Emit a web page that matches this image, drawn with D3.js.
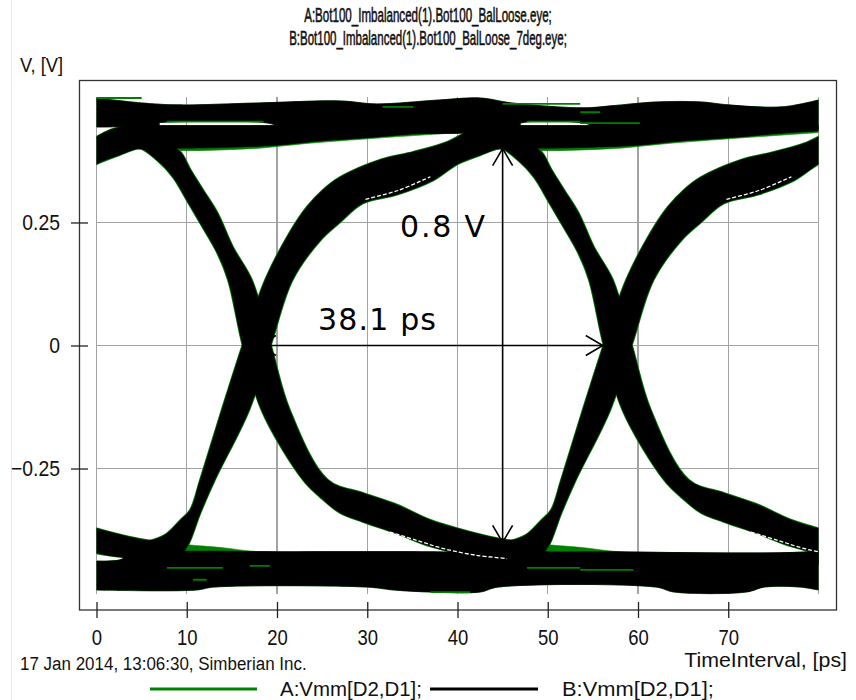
<!DOCTYPE html>
<html>
<head>
<meta charset="utf-8">
<script src="https://cdn.jsdelivr.net/npm/d3@7"></script>
<style>
  html, body { margin: 0; padding: 0; background: #fff; }
  svg { display: block; }
</style>
</head>
<body>
<svg id="chart" width="856" height="700"></svg>
<script>
// ---------------- data: time in ps, voltage in V ----------------
const xTicks = [0, 10, 20, 30, 40, 50, 60, 70];
const xGrid = [0, 10, 20, 30, 40, 50, 60, 70, 80];
const yTicks = [0.25, 0, -0.25];

// the eye folds every bit period, so edge envelopes repeat at these offsets
const edgeShifts = [-40, 0, 40];
const settleShifts = [-40, 0];

// rising-edge envelope: upper-left and lower-right boundaries [t, v]
const riseUpper = [[3.0,-0.401],[4.3,-0.401],[5.9,-0.397],[7.6,-0.385],[9.3,-0.355],[10.4,-0.334],
  [11.5,-0.273],[13.9,-0.131],[16.2,0.001],[18.7,0.133],[21.4,0.229],[23.3,0.281],[25.1,0.316],
  [27.0,0.342],[31.4,0.377],[35.1,0.393],[38.8,0.413],[41.4,0.437],[43.3,0.447],[44.7,0.454],[46.9,0.454]];
const riseLower = [[3.0,-0.436],[8.7,-0.436],[10.0,-0.410],[11.5,-0.340],[13.1,-0.273],[16.9,-0.131],
  [19.3,0.001],[21.7,0.133],[24.8,0.214],[27.0,0.251],[29.5,0.289],[33.3,0.307],[37.3,0.336],
  [40.0,0.369],[42.5,0.387],[44.7,0.401],[46.9,0.401]];

// falling-edge envelope: upper-right and lower-left boundaries [t, v]
const fallUpper = [[3.0,0.444],[4.3,0.444],[5.9,0.432],[7.8,0.412],[9.3,0.393],[10.4,0.357],[11.8,0.316],
  [13.4,0.269],[15.1,0.200],[17.2,0.133],[19.3,0.001],[21.4,-0.131],[25.6,-0.273],[29.5,-0.300],
  [33.3,-0.324],[37.0,-0.355],[40.6,-0.375],[44.4,-0.392],[46.4,-0.398]];
const fallLower = [[3.0,0.397],[4.8,0.401],[6.7,0.377],[8.5,0.342],[10.0,0.296],[11.5,0.249],[13.4,0.188],
  [14.6,0.133],[16.2,0.001],[18.3,-0.131],[22.9,-0.273],[24.8,-0.308],[27.0,-0.340],[29.5,-0.358],
  [33.3,-0.382],[37.0,-0.408],[40.6,-0.424],[43.6,-0.431],[46.4,-0.432]];

// settling after a transition (second bit of the same level)
const settleHighUpper = [[43,0.447],[86,0.447]];
const settleHighLower = [[43,0.401],[50,0.401],[55,0.403],[60,0.407],[65,0.416],[70,0.422],[75,0.430],[80,0.436],[86,0.440]];
const settleLowUpper = [[43,-0.398],[46,-0.408],[48,-0.416],[50,-0.419],[86,-0.421]];
const settleLowLower = [[43,-0.445],[86,-0.445]];
// series A settles slightly further into the eye
const settleHighLowerA = [[43,0.401],[48,0.396],[53,0.397],[58,0.401],[63,0.410],[70,0.420],[86,0.440]];
const settleLowUpperA = [[43,-0.398],[48,-0.402],[50,-0.405],[54,-0.411],[58,-0.419],[86,-0.421]];

// long runs of ones / zeros across the whole window
const highUpper = [[0,0.503],[5,0.493],[9,0.489],[18,0.493],[27,0.497],[31,0.491],[38,0.499],[42.5,0.503],
  [46,0.493],[54,0.483],[57,0.487],[62,0.495],[67,0.495],[70,0.489],[76,0.485],[80,0.499]];
const highLower = [[0,0.444],[4,0.446],[6,0.452],[19,0.452],[21,0.440],[46,0.440],[47,0.452],[54,0.452],[56,0.440],[80,0.440]];
const lowUpper = [[0,-0.438],[2.5,-0.436],[4.5,-0.421],[10,-0.418],[20,-0.419],[36,-0.419],[47,-0.421],
  [55,-0.419],[65,-0.421],[73,-0.423],[80,-0.418]];
const lowLower = [[0,-0.497],[11,-0.497],[13,-0.491],[30,-0.491],[33,-0.497],[37,-0.501],[42.5,-0.501],
  [44.5,-0.491],[62,-0.491],[64,-0.501],[72,-0.501],[74,-0.491],[78,-0.491],[80,-0.497]];

// isolated series-A traces showing through series B: [tStart, tEnd, v]
const streaksA = [[0,5,0.503],[7.8,18.5,0.455],[31.7,35.1,0.485],[45,53.6,0.491],[47.7,53.6,0.455],
  [53.6,55.8,0.474],[53.6,60.2,0.452],[7.8,14,-0.452],[17,19.2,-0.448],[10.7,12.2,-0.476],
  [47.7,53.6,-0.452],[53.6,59.5,-0.456],[37,41.4,-0.501]];

// empty seams between trace groups inside the edges
const riseSeam = [[29.8,0.297],[33.4,0.315],[37.0,0.343]];
const fallSeam = [[32.5,-0.379],[35.5,-0.396],[38.5,-0.413],[42,-0.426],[45.5,-0.433]];

// eye measurements
const eyeSampleTime = 45;
const eyeTop = 0.4, eyeBottom = -0.4;
const eyeHeightLabel = "0.8 V";
const eyeCrossStart = 18.0, eyeWidth = 38.1;
const eyeWidthLabel = "38.1 ps";

const titleLines = ["A:Bot100_Imbalanced(1).Bot100_BalLoose.eye;",
                    "B:Bot100_Imbalanced(1).Bot100_BalLoose_7deg.eye;"];
const legendItems = [{name: "A:Vmm[D2,D1];", color: "#008000"}, {name: "B:Vmm[D2,D1];", color: "#000000"}];

// ---------------- drawing ----------------
const svg = d3.select("#chart");
const x = d3.scaleLinear().domain([0, 80]).range([96.5, 818.5]);
const y = d3.scaleLinear().domain([-0.505, 0.505]).range([594, 97]);
const labelFont = "'Liberation Sans', Arial, sans-serif";
const noteFont = "'DejaVu Sans', Verdana, sans-serif";

// window edge
svg.append("line").attr("x1", 11.5).attr("x2", 11.5).attr("y1", 0).attr("y2", 700)
  .attr("stroke", "#e6e6e6").attr("stroke-width", 1);

const defs = svg.append("defs");
defs.append("clipPath").attr("id", "plotClip").append("rect")
  .attr("x", x(0)).attr("y", y(0.53))
  .attr("width", x(80) - x(0)).attr("height", y(-0.53) - y(0.53));

const marker = defs.append("marker").attr("id", "chevron")
  .attr("markerUnits", "userSpaceOnUse").attr("markerWidth", 20).attr("markerHeight", 24)
  .attr("refX", 18).attr("refY", 11).attr("orient", "auto-start-reverse");
marker.append("path").attr("d", "M1,1 L18,11 L1,21")
  .attr("fill", "none").attr("stroke", "#000").attr("stroke-width", 1.6);

// grid
const grid = svg.append("g").attr("shape-rendering", "crispEdges");
grid.selectAll("line.v").data(xGrid).join("line").attr("class", "v")
  .attr("x1", d => x(d)).attr("x2", d => x(d)).attr("y1", y(0.505)).attr("y2", y(-0.505))
  .attr("stroke", "#a3a3a3").attr("stroke-width", 1.3);
grid.selectAll("line.h").data(yTicks).join("line").attr("class", "h")
  .attr("x1", x(0)).attr("x2", x(80)).attr("y1", d => y(d)).attr("y2", d => y(d))
  .attr("stroke", "#a3a3a3").attr("stroke-width", 1.3);

function edgeLine(shift) {
  return d3.line().x(d => x(d[0] + shift)).y(d => y(d[1])).curve(d3.curveCatmullRom.alpha(0.5));
}
function bandPath(upper, lower, shift) {
  const line = edgeLine(shift);
  return line(upper) + "L" + line(lower.slice().reverse()).slice(1) + "Z";
}

const plot = svg.append("g").attr("clip-path", "url(#plotClip)");

function drawSeries(bands, color, edgeStroke) {
  const g = plot.append("g");
  bands.forEach(b => {
    b.shifts.forEach(s => {
      g.append("path").attr("d", bandPath(b.upper, b.lower, s))
        .attr("fill", color).attr("stroke", color)
        .attr("stroke-width", b.edge ? edgeStroke : 0.6).attr("stroke-linejoin", "round");
    });
  });
  return g;
}

// series A (green) underneath
drawSeries([
  {upper: highUpper, lower: highLower, shifts: [0]},
  {upper: lowUpper, lower: lowLower, shifts: [0]},
  {upper: settleHighUpper, lower: settleHighLowerA, shifts: settleShifts},
  {upper: settleLowUpperA, lower: settleLowLower, shifts: settleShifts},
  {upper: riseUpper, lower: riseLower, shifts: edgeShifts, edge: true},
  {upper: fallUpper, lower: fallLower, shifts: edgeShifts, edge: true}
], "#008000", 2.3);

// series B (black) on top
drawSeries([
  {upper: highUpper, lower: highLower, shifts: [0]},
  {upper: lowUpper, lower: lowLower, shifts: [0]},
  {upper: settleHighUpper, lower: settleHighLower, shifts: settleShifts},
  {upper: settleLowUpper, lower: settleLowLower, shifts: settleShifts},
  {upper: riseUpper, lower: riseLower, shifts: edgeShifts},
  {upper: fallUpper, lower: fallLower, shifts: edgeShifts}
], "#000000", 0.6);

// seams
[[riseSeam, [0, 40]], [fallSeam, [0, 40]]].forEach(([pts, shifts]) => {
  shifts.forEach(s => {
    plot.append("path").attr("d", edgeLine(s)(pts))
      .attr("fill", "none").attr("stroke", "#fff").attr("stroke-width", 1.3)
      .attr("stroke-dasharray", "4,2");
  });
});

// series A traces visible through B
plot.selectAll("line.streak").data(streaksA).join("line").attr("class", "streak")
  .attr("x1", d => x(d[0])).attr("x2", d => x(d[1]))
  .attr("y1", d => y(d[2])).attr("y2", d => y(d[2]))
  .attr("stroke", "#008000").attr("stroke-width", 1.8);

// eye opening measurements
svg.append("line")
  .attr("x1", x(eyeSampleTime)).attr("x2", x(eyeSampleTime))
  .attr("y1", y(eyeTop)).attr("y2", y(eyeBottom))
  .attr("stroke", "#000").attr("stroke-width", 1.6)
  .attr("marker-start", "url(#chevron)").attr("marker-end", "url(#chevron)");
svg.append("line")
  .attr("x1", x(eyeCrossStart)).attr("x2", x(eyeCrossStart + eyeWidth))
  .attr("y1", y(0)).attr("y2", y(0))
  .attr("stroke", "#000").attr("stroke-width", 1.6)
  .attr("marker-start", "url(#chevron)").attr("marker-end", "url(#chevron)");
svg.append("text").text(eyeHeightLabel)
  .attr("x", 400).attr("y", 237).attr("font-family", noteFont).attr("font-size", 30)
  .attr("textLength", 85).attr("lengthAdjust", "spacing").attr("fill", "#000");
svg.append("text").text(eyeWidthLabel)
  .attr("x", 318).attr("y", 330).attr("font-family", noteFont).attr("font-size", 30)
  .attr("textLength", 118).attr("lengthAdjust", "spacing").attr("fill", "#000");

// frame
svg.append("rect").attr("x", 79.5).attr("y", 80.5).attr("width", 757).attr("height", 529.5)
  .attr("fill", "none").attr("stroke", "#333").attr("stroke-width", 1.3);

function squeeze(sel, k) {
  sel.each(function () {
    const w = this.getComputedTextLength();
    d3.select(this).attr("textLength", w * k).attr("lengthAdjust", "spacingAndGlyphs");
  });
}

// narrow caption text: placed at (px, py), stretched horizontally to the given width
function caption(str, px, py, width, size, anchor, heft) {
  const g = svg.append("g");
  const t = g.append("text").text(str).attr("x", 0).attr("y", 0)
    .attr("font-family", labelFont).attr("font-size", size).attr("fill", "#111")
    .attr("text-anchor", anchor || "start");
  if (heft) t.attr("stroke", "#111").attr("stroke-width", heft);
  const k = width / t.node().getComputedTextLength();
  g.attr("transform", `translate(${px},${py}) scale(${k},1)`);
  return g;
}

// axes
const xAxis = svg.append("g").attr("transform", "translate(0,602)")
  .call(d3.axisBottom(x).tickValues(xTicks).tickSize(16).tickPadding(11).tickFormat(d3.format("d")));
xAxis.select(".domain").remove();
xAxis.selectAll(".tick line").attr("stroke", "#222").attr("stroke-width", 1.3);
xAxis.selectAll("text").attr("font-family", labelFont).attr("font-size", 22).attr("fill", "#111");
squeeze(xAxis.selectAll("text"), 0.84);

const yAxis = svg.append("g").attr("transform", "translate(88,0)")
  .call(d3.axisLeft(y).tickValues(yTicks).tickSize(17).tickPadding(11)
    .tickFormat(d => d === 0 ? "0" : d3.format("")(d)));
yAxis.select(".domain").remove();
yAxis.selectAll(".tick line").attr("stroke", "#222").attr("stroke-width", 1.3);
yAxis.selectAll("text").attr("font-family", labelFont).attr("font-size", 22).attr("fill", "#111");
squeeze(yAxis.selectAll("text"), 0.88);

// titles and captions
caption(titleLines[0], 428, 22, 248, 21, "middle", 0.6);
caption(titleLines[1], 428, 45, 278, 21, "middle", 0.6);
caption("V, [V]", 20, 72, 43, 20);
caption("17 Jan 2014, 13:06:30, Simberian Inc.", 20, 670, 287, 19);
caption("TimeInterval, [ps]", 847, 667, 163, 21, "end");

// legend
const legendX = [[150, 257, 280, 142], [430, 538, 562, 152]];
legendItems.forEach((item, i) => {
  const [l0, l1, tx, tw] = legendX[i];
  svg.append("line").attr("x1", l0).attr("x2", l1).attr("y1", 689).attr("y2", 689)
    .attr("stroke", item.color).attr("stroke-width", 3.2);
  caption(item.name, tx, 695.5, tw, 20);
});
</script>
</body>
</html>
